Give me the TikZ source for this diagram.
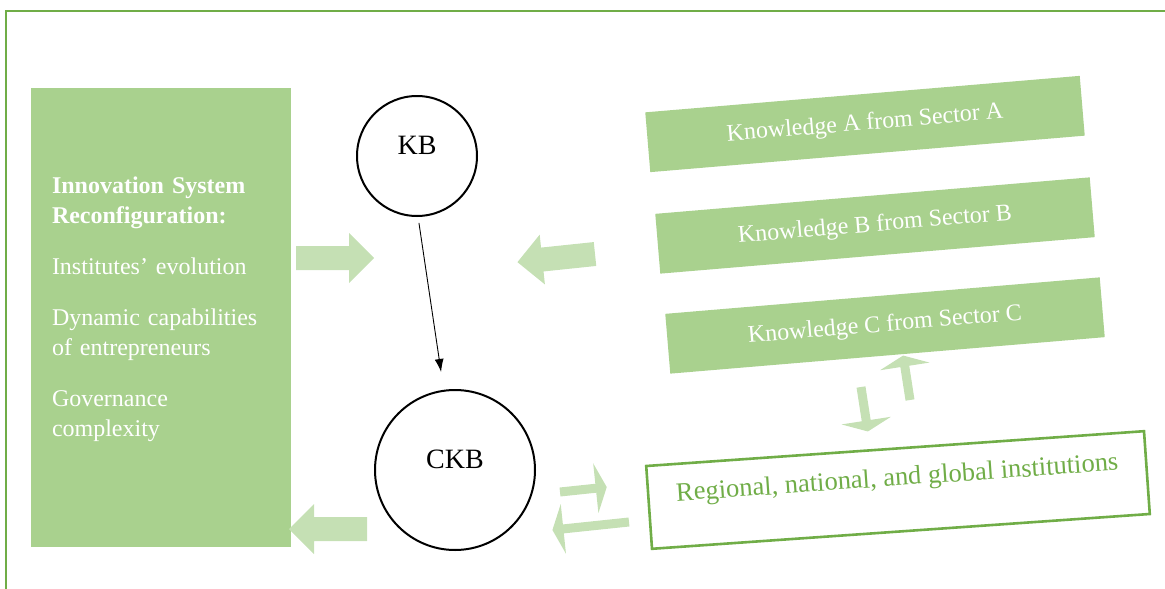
\documentclass[tikz,border=0pt]{standalone}
\usepackage{fontspec}
\setmainfont{Liberation Serif}
\usetikzlibrary{arrows.meta,positioning}
\definecolor{framegreen}{HTML}{70AD47}
\definecolor{boxgreen}{HTML}{A9D18E}
\definecolor{paleg}{HTML}{C5E0B4}
\tikzset{
  pics/fatarrow/.style={code={
    \fill[paleg] (0,-12) -- (#1-25,-12) -- (#1-25,-25) -- (#1,0) -- (#1-25,25) -- (#1-25,12) -- (0,12) -- cycle;}},
  pics/thinarrow/.style={code={
    \fill[paleg] (0,-4.5) -- (#1-11,-4.5) -- (#1-11,-25) -- (#1,0) -- (#1-11,25) -- (#1-11,4.5) -- (0,4.5) -- cycle;}},
}
\begin{document}
\begin{tikzpicture}[x=1pt, y=-1pt,
    sectorbox/.style={fill=boxgreen, text=white, minimum width=436pt, minimum height=60pt, inner sep=0pt, rotate=4.8, font=\fontsize{24}{29}\selectfont},
    knot/.style={circle, draw, line width=2pt, inner sep=0pt, text depth=22pt, font=\fontsize{28}{34}\selectfont}]
    \useasboundingbox (0,0) rectangle (1165,589);
    \clip (0,0) rectangle (1165,589);
    \draw[framegreen, line width=2.6pt] (6,600) -- (6,11) -- (1180,11);

    \node[fill=boxgreen, minimum width=260pt, minimum height=459pt, inner sep=0pt] (isr) at (161,317.5) {};
    \node[anchor=north west, inner sep=0pt, text width=235pt, align=left, text=white, font=\fontsize{24}{30}\selectfont] (isrtext) at ([xshift=21pt, yshift=-89pt]isr.north west)
        {\textbf{Innovation System}\\ \textbf{Reconfiguration:}\\[21pt] Institutes’ evolution\\[21pt] Dynamic capabilities\\ of entrepreneurs\\[21pt] Governance\\ complexity};

    \node[knot, minimum size=120pt] (kb) at (417,156) {KB};
    \node[knot, minimum size=160pt] (ckb) at (455,470) {CKB};
    \draw[-{Latex[length=13pt,width=9pt]}, line width=0.9pt, shorten <=6pt, shorten >=18pt] (kb.271) -- (ckb.98);

    \node[sectorbox] (secA) at (865,124) {Knowledge A from Sector A};
    \node[sectorbox] (secB) at (875,225.5) {Knowledge B from Sector B};
    \node[sectorbox] (secC) at (885,325.5) {Knowledge C from Sector C};

    \node[draw=framegreen, line width=2.6pt, fill=white, text=framegreen, minimum width=499pt, minimum height=83pt, inner sep=0pt, text depth=27pt, rotate=4.0, font=\fontsize{26.5}{32}\selectfont] (inst) at (898,490) {Regional, national, and global institutions};

    \pic at (296,258) {fatarrow=78};
    \pic[rotate=186] at (595,254) {fatarrow=78};
    \pic[rotate=180] at (367,529) {fatarrow=78};

    \pic[rotate=6] at (560,492) {thinarrow=47};
    \pic[rotate=186] at (629,522) {thinarrow=77};
    \pic[rotate=98.8] at (910,400) {thinarrow=45};
    \pic[rotate=-81.2] at (861,387) {thinarrow=45};
\end{tikzpicture}
\end{document}
